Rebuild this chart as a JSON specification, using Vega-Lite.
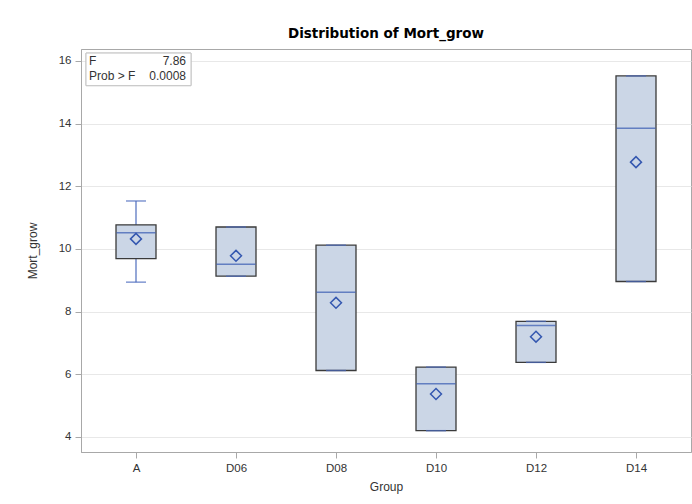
{
  "$schema": "https://vega.github.io/schema/vega-lite/v6.json",
  "width": 610,
  "height": 403,
  "autosize": {"type": "none"},
  "padding": {"left": 81, "top": 49, "right": 1, "bottom": 52},
  "background": "white",
  "title": {"text": "Distribution of Mort_grow", "font": "DejaVu Sans", "fontSize": 13.5, "fontWeight": "bold", "color": "#000000", "offset": 9, "limit": 0},
  "config": {
    "view": {"stroke": "#a8a8a8", "strokeWidth": 1},
    "axis": {"labelFont": "Liberation Sans", "titleFont": "Liberation Sans", "labelFontSize": 11.5, "titleFontSize": 12, "titleFontWeight": "normal", "labelColor": "#333333", "titleColor": "#333333", "domainColor": "#a8a8a8", "tickColor": "#a8a8a8", "tickSize": 6, "labelPadding": 4}
  },
  "datasets": {
    "boxes": [
      {"Group": "A", "min": 8.94, "q1": 9.69, "median": 10.52, "q3": 10.77, "max": 11.53, "mean": 10.32},
      {"Group": "D06", "min": 9.13, "q1": 9.13, "median": 9.51, "q3": 10.70, "max": 10.70, "mean": 9.78},
      {"Group": "D08", "min": 6.12, "q1": 6.12, "median": 8.62, "q3": 10.12, "max": 10.12, "mean": 8.28},
      {"Group": "D10", "min": 4.20, "q1": 4.20, "median": 5.70, "q3": 6.23, "max": 6.23, "mean": 5.37},
      {"Group": "D12", "min": 6.38, "q1": 6.38, "median": 7.56, "q3": 7.69, "max": 7.69, "mean": 7.20},
      {"Group": "D14", "min": 8.96, "q1": 8.96, "median": 13.85, "q3": 15.52, "max": 15.52, "mean": 12.77}
    ],
    "stats": [
      {"stat": "F", "value": "7.86"},
      {"stat": "Prob > F", "value": "0.0008"}
    ]
  },
  "layer": [
    {
      "data": {"name": "boxes"},
      "mark": {"type": "rule", "color": "#5b78c2", "strokeWidth": 1.3},
      "encoding": {
        "x": {"field": "Group", "type": "nominal", "sort": null, "scale": {"type": "point", "padding": 0.55},
              "axis": {"title": "Group", "labelAngle": 0, "grid": false, "titlePadding": 8, "domainColor": "#a8a8a8"}},
        "y": {"field": "min", "type": "quantitative", "scale": {"domain": [3.52, 16.38], "nice": false, "zero": false},
              "axis": {"title": "Mort_grow", "values": [4, 6, 8, 10, 12, 14, 16], "grid": true, "gridColor": "#e8e8e8", "gridWidth": 1, "titlePadding": 19}},
        "y2": {"field": "max"}
      }
    },
    {
      "data": {"name": "stats"},
      "mark": {"type": "bar", "fill": "white", "stroke": "#c4c4c4", "strokeWidth": 1, "width": 105, "xOffset": 2.5},
      "encoding": {
        "x": {"datum": "A", "type": "nominal"},
        "y": {"datum": 16.25},
        "y2": {"datum": 15.21}
      }
    },
    {
      "data": {"name": "stats"},
      "transform": [{"filter": "datum.stat === 'F'"}],
      "layer": [
        {"mark": {"type": "text", "align": "left", "baseline": "middle", "dx": -47, "font": "Liberation Sans", "fontSize": 12, "color": "#333333"},
         "encoding": {"x": {"datum": "A", "type": "nominal"}, "y": {"datum": 16.0}, "text": {"field": "stat"}}},
        {"mark": {"type": "text", "align": "right", "baseline": "middle", "dx": 50, "font": "Liberation Sans", "fontSize": 12, "color": "#333333"},
         "encoding": {"x": {"datum": "A", "type": "nominal"}, "y": {"datum": 16.0}, "text": {"field": "value"}}}
      ]
    },
    {
      "data": {"name": "stats"},
      "transform": [{"filter": "datum.stat === 'Prob > F'"}],
      "layer": [
        {"mark": {"type": "text", "align": "left", "baseline": "middle", "dx": -47, "font": "Liberation Sans", "fontSize": 12, "color": "#333333"},
         "encoding": {"x": {"datum": "A", "type": "nominal"}, "y": {"datum": 15.52}, "text": {"field": "stat"}}},
        {"mark": {"type": "text", "align": "right", "baseline": "middle", "dx": 50, "font": "Liberation Sans", "fontSize": 12, "color": "#333333"},
         "encoding": {"x": {"datum": "A", "type": "nominal"}, "y": {"datum": 15.52}, "text": {"field": "value"}}}
      ]
    },
    {
      "data": {"name": "boxes"},
      "mark": {"type": "bar", "fill": "#cbd6e6", "stroke": "#3a3a3a", "strokeWidth": 1.3, "width": 40},
      "encoding": {
        "x": {"field": "Group", "type": "nominal", "sort": null},
        "y": {"field": "q1", "type": "quantitative"},
        "y2": {"field": "q3"}
      }
    },
    {
      "data": {"name": "boxes"},
      "mark": {"type": "tick", "color": "#4a69bd", "thickness": 1.5, "size": 20},
      "encoding": {
        "x": {"field": "Group", "type": "nominal", "sort": null},
        "y": {"field": "min", "type": "quantitative"}
      }
    },
    {
      "data": {"name": "boxes"},
      "mark": {"type": "tick", "color": "#4a69bd", "thickness": 1.5, "size": 20},
      "encoding": {
        "x": {"field": "Group", "type": "nominal", "sort": null},
        "y": {"field": "max", "type": "quantitative"}
      }
    },
    {
      "data": {"name": "boxes"},
      "mark": {"type": "tick", "color": "#3558b0", "thickness": 1.5, "size": 39},
      "encoding": {
        "x": {"field": "Group", "type": "nominal", "sort": null},
        "y": {"field": "median", "type": "quantitative"}
      }
    },
    {
      "data": {"name": "boxes"},
      "mark": {"type": "point", "shape": "diamond", "filled": false, "stroke": "#3558b0", "strokeWidth": 1.5, "size": 120, "opacity": 1},
      "encoding": {
        "x": {"field": "Group", "type": "nominal", "sort": null},
        "y": {"field": "mean", "type": "quantitative"}
      }
    }
  ]
}
